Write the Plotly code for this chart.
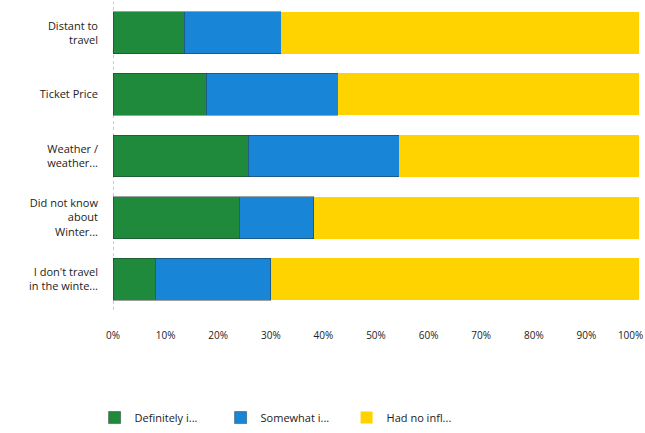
import plotly.graph_objects as go

# Reasons asked about, top to bottom
categories = [
    "Distant to<br>travel",
    "Ticket Price",
    "Weather /<br>weather...",
    "Did not know<br>about<br>Winter...",
    "I don't travel<br>in the winte...",
]

# Share of responses (percent) for each level of influence
definitely = [13.5, 17.7, 25.7, 24.0, 8.0]
somewhat = [18.5, 25.1, 28.7, 14.2, 22.0]
no_influence = [68.0, 57.2, 45.6, 61.8, 70.0]

series_names = ["Definitely i...", "Somewhat i...", "Had no infl..."]
series_values = [definitely, somewhat, no_influence]
colors = ["#1f8a3b", "#1985d6", "#ffd300"]
edges = ["rgba(30,40,40,0.55)", "rgba(30,40,40,0.55)", "rgba(0,0,0,0)"]

# the 100% label is nudged inward so it stays inside the page edge
tick_vals = [0, 10, 20, 30, 40, 50, 60, 70, 80, 90, 98.4]
tick_text = ["0%", "10%", "20%", "30%", "40%", "50%", "60%", "70%", "80%", "90%", "100%"]

fig = go.Figure()
for name, vals, col, edge in zip(series_names, series_values, colors, edges):
    fig.add_trace(go.Bar(
        y=categories,
        x=vals,
        name=name,
        orientation="h",
        marker=dict(color=col, line=dict(color=edge, width=0.8)),
    ))

fig.update_layout(
    barmode="stack",
    bargap=0.32,
    width=645,
    height=433,
    margin=dict(l=113, r=6, t=2, b=122),
    paper_bgcolor="white",
    plot_bgcolor="white",
    font=dict(family="Open Sans, sans-serif", size=11, color="#222222"),
    showlegend=True,
    legend=dict(
        orientation="h",
        x=-0.035,
        xanchor="left",
        y=-0.345,
        yanchor="middle",
        font=dict(size=11, color="#222222"),
        itemwidth=30,
        entrywidth=81,
        entrywidthmode="pixels",
        traceorder="normal",
    ),
    xaxis=dict(
        range=[0, 100],
        tickvals=tick_vals,
        ticktext=tick_text,
        showgrid=False,
        zeroline=False,
        showline=False,
        ticks="",
        ticklabelstandoff=18,
        ticklabeloverflow="allow",
        automargin=False,
        tickfont=dict(size=10, color="#222222"),
        fixedrange=True,
    ),
    yaxis=dict(
        autorange="reversed",
        showgrid=False,
        zeroline=False,
        showline=False,
        ticks="",
        ticklabelstandoff=14,
        automargin=False,
        tickfont=dict(size=11, color="#222222"),
        fixedrange=True,
    ),
    shapes=[dict(
        type="line", xref="x", yref="paper", x0=0, x1=0, y0=0, y1=1,
        line=dict(color="#9a9a9a", width=1, dash="dot"), layer="below",
    )],
)

fig.write_html("out.html")
